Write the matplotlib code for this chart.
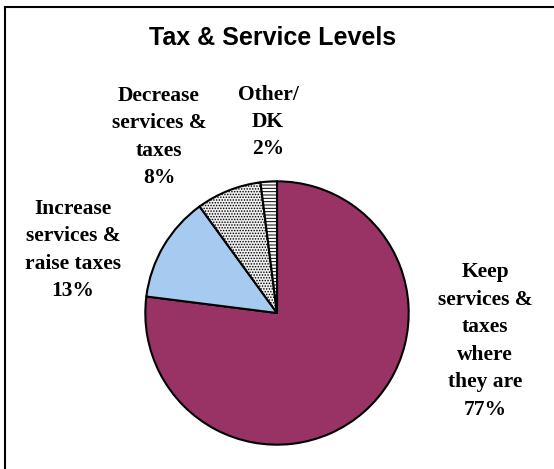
import matplotlib
matplotlib.use("Agg")
import matplotlib.pyplot as plt
from matplotlib.lines import Line2D

W, H = 554, 469

title = "Tax & Service Levels"
categories = ["Keep\nservices &\ntaxes\nwhere\nthey are",
              "Increase\nservices &\nraise taxes",
              "Decrease\nservices &\ntaxes",
              "Other/\nDK"]
values = [77, 13, 8, 2]
colors = ["#993366", "#A6CAF0", "#EEEEEE", "#FFFFFF"]
hatches = [None, None, "......", "-----"]

plt.rcParams['hatch.linewidth'] = 0.7
plt.rcParams['hatch.color'] = '#666666'

fig = plt.figure(figsize=(W / 100, H / 100), dpi=100)
fig.patch.set_facecolor("white")

def fx(x):
    return x / W

def fy(y):
    return 1 - y / H

# frame (top and left edges visible)
fig.add_artist(Line2D([fx(5), fx(W)], [fy(7), fy(7)], color="black", lw=1.5,
                      transform=fig.transFigure))
fig.add_artist(Line2D([fx(5), fx(5)], [fy(7), fy(H)], color="black", lw=1.5,
                      transform=fig.transFigure))

cx, cy, r = 277, 313, 133
ax = fig.add_axes([fx(cx - r), fy(cy + r), 2 * r / W, 2 * r / H])
wedges, _ = ax.pie(values, colors=colors, startangle=90, counterclock=False,
                   radius=1.0, wedgeprops=dict(edgecolor="black", linewidth=1.5))
for w, h in zip(wedges, hatches):
    if h:
        w.set_hatch(h)
ax.set_xlim(-1.01, 1.01)
ax.set_ylim(-1.01, 1.01)
ax.set_aspect("auto")
ax.axis("off")

fig.text(fx(273), fy(38), title, ha="center", va="center",
         fontsize=18, fontweight="bold", family="Liberation Sans")

label_pos = [(485, 341), (73, 250), (159, 137), (268, 122)]
for lab, val, (x, y) in zip(categories, values, label_pos):
    fig.text(fx(x), fy(y), f"{lab}\n{val}%", ha="center", va="center",
             fontsize=15.5, fontweight="bold", family="Liberation Serif",
             linespacing=1.5, multialignment="center")

fig.savefig("out.png", dpi=100, facecolor="white")
